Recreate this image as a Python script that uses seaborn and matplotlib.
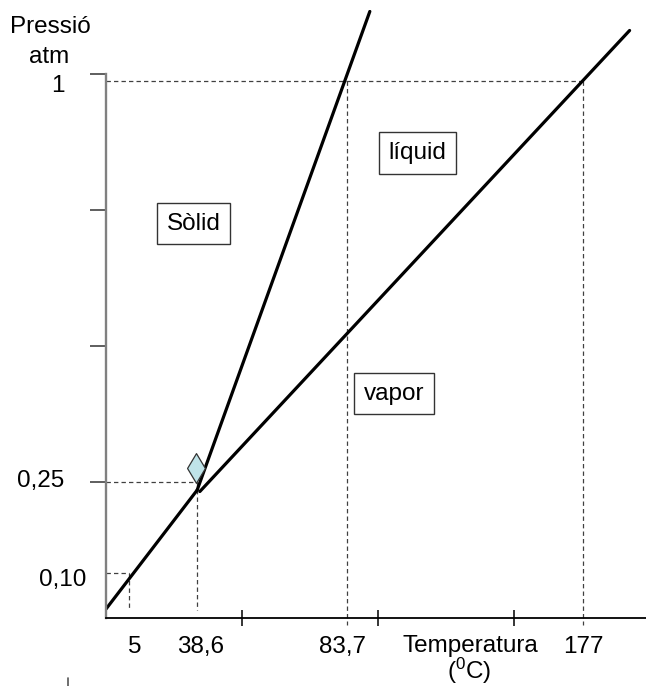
import matplotlib
matplotlib.use("Agg")
import matplotlib.pyplot as plt
import seaborn as sns
import pandas as pd
from matplotlib.lines import Line2D

# Schematic (not-to-scale) phase diagram; axis units = one major tick interval
temp_labels = ["5", "38,6", "83,7", "177"]
temp_pos = [0.17, 0.67, 1.77, 3.51]
press_labels = ["0,10", "0,25", "1"]
press_pos = [0.33, 1.0, 3.95]

# phase boundary curves
sub_T = [0.0, 0.67]
sub_P = [0.066, 0.94]
vap_T = [0.69, 3.85]
vap_P = [0.93, 4.32]
fus_T = [0.67, 1.94]
fus_P = [0.94, 4.46]

triple_T = [0.66]
triple_P = [1.10]

region_labels = ["Sòlid", "líquid", "vapor"]
region_T = [0.645, 2.29, 2.12]
region_P = [2.90, 3.42, 1.65]

W, H = 646, 686
sns.set_theme(style="white")
plt.rcParams["font.family"] = ["Liberation Sans", "DejaVu Sans"]
plt.rcParams["mathtext.fontset"] = "custom"
plt.rcParams["mathtext.rm"] = "Liberation Sans"
plt.rcParams["mathtext.it"] = "Liberation Sans"

fig = plt.figure(figsize=(W / 100, H / 100), dpi=100)
fig.patch.set_facecolor("white")
ax = fig.add_axes([106 / W, 68 / H, 540 / W, 608 / H])
ax.set_facecolor("white")

curves = pd.DataFrame({
    "T": sub_T + vap_T + fus_T,
    "P": sub_P + vap_P + fus_P,
    "curve": ["sub"] * 2 + ["vap"] * 2 + ["fus"] * 2,
})
sns.lineplot(data=curves, x="T", y="P", units="curve", estimator=None,
             color="black", lw=2.3, ax=ax, legend=False, sort=False)

dash = dict(color="#404040", lw=0.9, ls=(0, (3.5, 2.5)), zorder=1)
bottom = 0.059
# 1 atm guide lines
ax.plot([0, temp_pos[3]], [press_pos[2], press_pos[2]], **dash)
ax.plot([temp_pos[2], temp_pos[2]], [press_pos[2], -0.05], clip_on=False, **dash)
ax.plot([temp_pos[3], temp_pos[3]], [press_pos[2], -0.05], clip_on=False, **dash)
# triple point guides
ax.plot([0, temp_pos[1]], [press_pos[1], press_pos[1]], **dash)
ax.plot([temp_pos[1], temp_pos[1]], [press_pos[1], bottom], **dash)
# 0.10 atm guides
ax.plot([0, temp_pos[0]], [press_pos[0], press_pos[0]], **dash)
ax.plot([temp_pos[0], temp_pos[0]], [press_pos[0], bottom], **dash)

sns.scatterplot(x=triple_T, y=triple_P, marker="d", s=230, color="#bfe3e8",
                edgecolor="#333333", linewidth=0.9, ax=ax, zorder=5)

fs = 17.5
for lab, t, p in zip(region_labels, region_T, region_P):
    ax.text(t, p, lab, ha="center", va="center", fontsize=fs, color="black",
            bbox=dict(boxstyle="square,pad=0.4", fc="white", ec="#333333", lw=1.0))

ax.set_xlim(0, 540 / 136)
ax.set_ylim(0, 608 / 136)
for s in ["top", "right"]:
    ax.spines[s].set_visible(False)
ax.spines["left"].set_bounds(0, 4.0)
ax.spines["left"].set_color("#808080")
ax.spines["left"].set_linewidth(1.7)
ax.spines["bottom"].set_color("black")
ax.spines["bottom"].set_linewidth(1.3)
ax.set_xticks([1, 2, 3])
ax.set_yticks([1, 2, 3, 4])
ax.tick_params(axis="x", direction="inout", length=12, width=1.1, color="black",
               labelbottom=False, bottom=True)
ax.tick_params(axis="y", direction="out", length=11.5, width=1.1, color="#333333",
               labelleft=False, left=True)
ax.set_xlabel("")
ax.set_ylabel("")
ax.grid(False)

def ftext(x, y, s, **kw):
    fig.text(x / W, 1 - y / H, s, fontsize=fs, color="black", **kw)

# y labels (pixel layout)
ylab_x = [86, 64, 65]
ylab_y = [580, 481, 86]
for lab, x, y in zip(press_labels, ylab_x, ylab_y):
    ftext(x, y, lab, ha="right", va="center")
ftext(50, 33, "Pressió", ha="center", va="baseline")
ftext(49, 63, "atm", ha="center", va="baseline")

# x labels (pixel layout)
xlab_x = [135, 201, 343, 583]
for lab, x in zip(temp_labels, xlab_x):
    ftext(x, 653, lab, ha="center", va="baseline")
ftext(470, 652, "Temperatura", ha="center", va="baseline")
ftext(469, 679, "($^{0}$C)", ha="center", va="baseline")

fig.add_artist(Line2D([68 / W, 68 / W], [1 - 678 / H, 0], color="#555555", lw=1.2))

fig.savefig("out.png", dpi=100, facecolor="white")
